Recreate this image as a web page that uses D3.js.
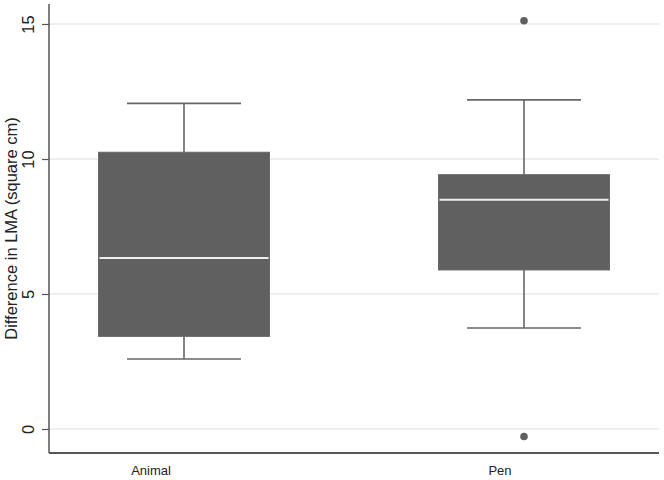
<!DOCTYPE html>
<html>
<head>
<meta charset="utf-8">
<script src="https://cdn.jsdelivr.net/npm/d3@7"></script>
<style>
  html, body { margin: 0; padding: 0; background: #fff; }
  svg { display: block; font-family: Arial, "Liberation Sans", Helvetica, sans-serif; }
</style>
</head>
<body>
<svg id="chart" width="664" height="480"></svg>
<script>
const categories = ["Animal", "Pen"];
const whiskerLow  = [2.59, 3.74];
const q1          = [3.43, 5.89];
const medians     = [6.33, 8.49];
const q3          = [10.25, 9.42];
const whiskerHigh = [12.06, 12.19];
const outliers    = [[], [15.12, -0.28]];
const yTicks      = [0, 5, 10, 15];
const yLabel      = "Difference in LMA (square cm)";

(function () {
const svg = d3.select("#chart");
const mLeft = 49, mRight = 659, mTop = 4, mBottom = 453;

const y = d3.scaleLinear().domain([0, 15]).range([429, 24]);
const x = d3.scaleBand().domain(categories).range([14, 694]);
const cx = c => x(c) + x.bandwidth() / 2;
const xLabel = d3.scalePoint().domain(categories).range([151, 500]);

const boxW = 171, capW = 114;

// gridlines
svg.append("g").selectAll("line").data(yTicks).join("line")
  .attr("x1", mLeft).attr("x2", mRight)
  .attr("y1", d => y(d)).attr("y2", d => y(d))
  .attr("stroke", "#eaeaea").attr("stroke-width", 1.5);

// y axis
const yAxis = d3.axisLeft(y).tickValues(yTicks).tickSize(7).tickPadding(7).tickFormat(d3.format("d"));
const gy = svg.append("g").attr("transform", `translate(${mLeft},0)`).call(yAxis);
gy.select(".domain").attr("d", `M0,${mTop}V${mBottom}`).attr("stroke", "#555").attr("stroke-width", 1.5);
gy.selectAll(".tick line").attr("stroke", "#555").attr("stroke-width", 1.2);
gy.selectAll(".tick text")
  .attr("transform", "rotate(-90)")
  .attr("x", 0).attr("y", -15.5)
  .attr("dy", "0")
  .attr("text-anchor", "middle")
  .attr("font-size", 16.5).attr("fill", "#222")
  .attr("font-family", "Arial, 'Liberation Sans', sans-serif");

// y title
svg.append("text")
  .attr("transform", `translate(17,${(mTop + mBottom) / 2}) rotate(-90)`)
  .attr("text-anchor", "middle")
  .attr("font-size", 16.5).attr("fill", "#222")
  .text(yLabel);

// x axis line
svg.append("line")
  .attr("x1", mLeft).attr("x2", mRight)
  .attr("y1", mBottom).attr("y2", mBottom)
  .attr("stroke", "#555").attr("stroke-width", 2);

// x labels
svg.append("g").selectAll("text").data(categories).join("text")
  .attr("x", d => xLabel(d)).attr("y", 475)
  .attr("text-anchor", "middle")
  .attr("font-size", 13).attr("fill", "#222")
  .text(d => d);

// boxes
const g = svg.append("g");
categories.forEach((c, i) => {
  const xc = cx(c);
  g.append("line").attr("x1", xc).attr("x2", xc)
    .attr("y1", y(whiskerHigh[i])).attr("y2", y(q3[i]))
    .attr("stroke", "#666").attr("stroke-width", 1.6);
  g.append("line").attr("x1", xc).attr("x2", xc)
    .attr("y1", y(q1[i])).attr("y2", y(whiskerLow[i]))
    .attr("stroke", "#666").attr("stroke-width", 1.6);
  [whiskerHigh[i], whiskerLow[i]].forEach(v => {
    g.append("line").attr("x1", xc - capW / 2).attr("x2", xc + capW / 2)
      .attr("y1", y(v)).attr("y2", y(v))
      .attr("stroke", "#666").attr("stroke-width", 1.6);
  });
  g.append("rect")
    .attr("x", xc - boxW / 2).attr("width", boxW)
    .attr("y", y(q3[i])).attr("height", y(q1[i]) - y(q3[i]))
    .attr("fill", "#606060").attr("stroke", "#6a6a6a").attr("stroke-width", 1);
  g.append("line").attr("x1", xc - boxW / 2 + 1).attr("x2", xc + boxW / 2 - 1)
    .attr("y1", y(medians[i])).attr("y2", y(medians[i]))
    .attr("stroke", "#eeeeee").attr("stroke-width", 2);
  g.selectAll(null).data(outliers[i]).join("circle")
    .attr("cx", xc).attr("cy", d => y(d)).attr("r", 3.8)
    .attr("fill", "#606060");
});
})();
</script>
</body>
</html>
